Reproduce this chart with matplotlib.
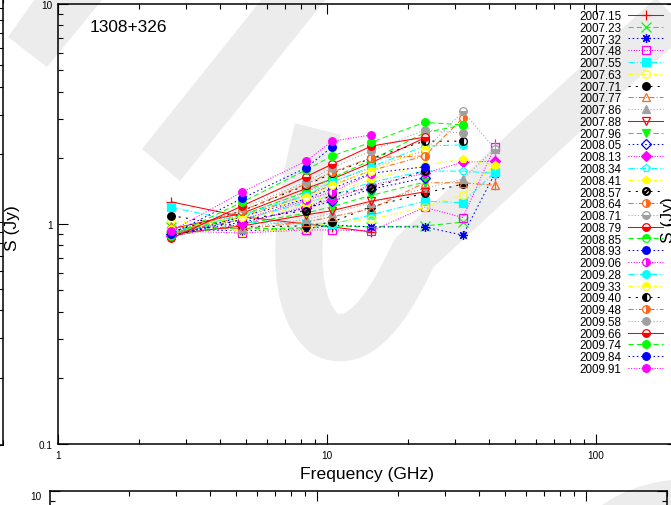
import numpy as np
import matplotlib
matplotlib.use("Agg")
import matplotlib.pyplot as plt
from matplotlib.patches import Polygon, PathPatch, Ellipse
from matplotlib.path import Path
from matplotlib.ticker import LogLocator, NullFormatter, FixedLocator, FixedFormatter

plt.rcParams['font.family'] = ['Liberation Sans', 'DejaVu Sans']

W, H = 671, 506

# observing frequencies (GHz)
freqs = [2.64, 4.85, 8.35, 10.45, 14.6, 23.05, 32.0, 42.0]

epochs = ["2007.15", "2007.23", "2007.32", "2007.48", "2007.55", "2007.63",
          "2007.71", "2007.77", "2007.86", "2007.88", "2007.96", "2008.05",
          "2008.13", "2008.34", "2008.41", "2008.57", "2008.64", "2008.71",
          "2008.79", "2008.85", "2008.93", "2009.06", "2009.28", "2009.33",
          "2009.40", "2009.48", "2009.58", "2009.66", "2009.74", "2009.84",
          "2009.91"]

N = np.nan
# flux densities (Jy) per epoch, one value per frequency
flux = [
    [1.26, 1.08, 1.00, 0.97, 0.92, N, N, N],
    [0.97, 0.95, 0.96, 0.98, 0.97, 0.98, 1.02, N],
    [0.95, 0.93, 0.95, 0.99, 0.97, 0.97, 0.89, 1.69],
    [0.93, 0.91, 0.94, 0.94, 0.93, 1.19, 1.07, 2.24],
    [1.19, 1.02, 1.00, 1.00, 1.10, 1.27, 1.25, 1.72],
    [1.04, 0.92, 0.95, 1.02, 1.05, 1.19, 1.36, 1.86],
    [1.09, 0.97, 0.98, 1.02, 1.20, 1.38, 1.52, N],
    [0.98, 0.95, 1.02, 1.08, 1.17, 1.54, 1.54, 1.50],
    [0.92, 0.96, 1.05, 1.12, 1.25, 1.45, 1.60, 2.20],
    [0.90, 0.98, 1.10, 1.15, 1.27, 1.40, N, N],
    [0.88, 1.00, 1.12, 1.20, 1.35, 1.55, N, N],
    [0.90, 1.02, 1.18, 1.27, 1.44, 1.62, N, N],
    [0.88, 1.00, 1.20, 1.30, 1.50, 1.70, 1.91, 1.93],
    [0.90, 1.05, 1.25, 1.35, 1.55, 1.74, 1.74, 1.70],
    [0.92, 1.05, 1.22, 1.38, 1.60, 1.85, 1.97, 1.85],
    [0.88, 1.05, 1.15, 1.37, 1.45, 1.75, N, N],
    [0.90, 1.08, 1.35, 1.50, 1.75, 2.04, 3.03, N],
    [0.92, 1.10, 1.40, 1.55, 1.80, 2.15, 3.26, 2.20],
    [0.95, 1.12, 1.45, 1.60, 1.90, 2.46, N, N],
    [0.90, 1.10, 1.40, 1.62, 1.95, 2.60, 2.82, N],
    [0.88, 1.08, 1.30, 1.45, 1.70, 1.82, N, N],
    [0.90, 1.05, 1.28, 1.40, 1.69, N, N, N],
    [0.92, 1.10, 1.35, 1.55, 1.82, 2.26, 2.29, N],
    [0.95, 1.08, 1.32, 1.50, 1.75, 2.20, N, N],
    [0.92, 1.15, 1.50, 1.70, 1.99, 2.38, 2.38, N],
    [0.90, 1.15, 1.52, 1.72, 2.00, 2.04, N, N],
    [0.88, 1.18, 1.55, 1.80, 2.15, 2.67, 2.59, N],
    [0.86, 1.21, 1.64, 1.87, 2.26, 2.48, N, N],
    [0.88, 1.26, 1.76, 2.04, 2.35, 2.90, 2.82, N],
    [0.90, 1.31, 1.80, 2.24, N, N, N, N],
    [0.93, 1.40, 1.93, 2.38, 2.54, N, N, N],
]
# 42 GHz uncertainties (Jy)
err42 = [N, N, 0.10, 0.20, 0.10, 0.10, N, 0.08, 0.15, N, N, N, 0.10, 0.10,
         0.10, N, N, 0.15, N, N, N, N, N, N, N, N, N, N, N, N, N]

source = "1308+326"

colors = ['#ff0000', '#00ff00', '#0000ff', '#ff00ff', '#00ffff', '#ffff00',
          '#000000', '#ff6a1a', '#a0a0a0']
dashes = [None, (5, 3), (1.5, 2.5), (1, 1.5), (6, 2, 1, 2), (4, 2, 1, 2, 1, 2),
          (2, 5), (5, 2, 1, 2), (1, 2)]

# point styles: (marker, fillstyle)
points = [('+', 'full'), ('x', 'full'), ((8, 2, 0), 'full'), ('s', 'none'),
          ('s', 'full'), ('o', 'none'), ('o', 'full'), ('^', 'none'),
          ('^', 'full'), ('v', 'none'), ('v', 'full'), ('D', 'none'),
          ('D', 'full'), ('p', 'none'), ('p', 'full'), (r'$\oslash$', 'full'),
          ('o', 'right'), ('o', 'bottom'), ('o', 'bottom'), ('o', 'top'),
          ('o', 'full'), ('o', 'right'), ('o', 'full'), ('o', 'top'),
          ('o', 'left'), ('o', 'right'), ('o', 'full'), ('o', 'bottom'),
          ('o', 'full'), ('o', 'full'), ('o', 'full')]

fig = plt.figure(figsize=(W / 100, H / 100), dpi=100)


def px_axes(x0, y0, x1, y1, **kw):
    return fig.add_axes([x0 / W, 1 - y1 / H, (x1 - x0) / W, (y1 - y0) / H], **kw)


def px(pts):
    return [(x / W, 1 - y / H) for x, y in pts]


# light background emblem, kept behind every axes
shade = '#ececec'
for poly in ([(35, 0), (103, 0), (47, 68), (8, 38)],
             [(262, 0), (326, 0), (180, 182), (142, 150)]):
    fig.patches.append(Polygon(px(poly), closed=True, transform=fig.transFigure,
                               facecolor=shade, edgecolor='none', zorder=-5))
bowl = Path(px([(318, 130), (300, 200), (283, 300), (325, 335),
                (365, 355), (397, 290), (414, 254), (700, -10)]),
            [Path.MOVETO, Path.CURVE4, Path.CURVE4, Path.CURVE4,
             Path.CURVE4, Path.CURVE4, Path.CURVE4, Path.LINETO])
fig.patches.append(PathPatch(bowl, transform=fig.transFigure, facecolor='none',
                             edgecolor=shade, lw=34, zorder=-5, capstyle='butt',
                             joinstyle='round'))
fig.patches.append(Ellipse((690 / W, 1 - 570 / H), 250 / W, 180 / H,
                           transform=fig.transFigure, facecolor=shade,
                           edgecolor='none', zorder=-5))


def style_log_axes(ax):
    ax.set_xscale('log')
    ax.set_yscale('log')
    ax.set_facecolor('none')
    for s in ax.spines.values():
        s.set_linewidth(1.1)
    ax.tick_params(which='both', direction='in', top=True, right=True,
                   width=0.8, labelsize=7.2, pad=4)
    ax.tick_params(which='major', length=7)
    ax.tick_params(which='minor', length=3.5)
    ax.xaxis.set_minor_locator(LogLocator(base=10, subs=np.arange(2, 10)))
    ax.yaxis.set_minor_locator(LogLocator(base=10, subs=np.arange(2, 10)))
    ax.xaxis.set_minor_formatter(NullFormatter())
    ax.yaxis.set_minor_formatter(NullFormatter())


# neighbouring panel on the left (only its right edge shows)
axl = px_axes(-600, -1, 3, 446)
style_log_axes(axl)
axl.set_xlim(1, 200)
axl.set_ylim(0.1, 10)
axl.tick_params(labelleft=False, labelbottom=False)

# panel below
axb = px_axes(50, 492, 667, 932)
style_log_axes(axb)
axb.set_xlim(1.02, 200)
axb.set_ylim(0.1, 10)
axb.yaxis.set_major_locator(FixedLocator([10]))
axb.yaxis.set_major_formatter(FixedFormatter(['10']))
axb.tick_params(labelbottom=False, which='both')
axb.tick_params(axis='y', labelsize=7.2, pad=6)
for t in axb.get_yticklabels():
    t.set_verticalalignment('top')

# main panel
ax = px_axes(58, 5, 677, 445)
style_log_axes(ax)
ax.set_xlim(1, 200)
ax.set_ylim(0.1, 10)
ax.xaxis.set_major_locator(FixedLocator([1, 10, 100]))
ax.xaxis.set_major_formatter(FixedFormatter(['1', '10', '100']))
ax.yaxis.set_major_locator(FixedLocator([0.1, 1, 10]))
ax.yaxis.set_major_formatter(FixedFormatter(['0.1', '1', '10']))

handles = []
for i, (lab, row) in enumerate(zip(epochs, flux)):
    c = colors[i % 9]
    d = dashes[i % 9]
    mk, fs = points[i]
    kw = dict(color=c, lw=0.75, marker=mk, ms=5.5, mec=c, mew=0.9, label=lab)
    if fs == 'none':
        kw.update(mfc='none')
    elif fs != 'full':
        kw.update(fillstyle=fs, mfc=c, markerfacecoloralt='white')
    else:
        kw.update(mfc=c)
    if mk in ('+', 'x', (8, 2, 0)):
        kw['ms'] = 6.5
    line, = ax.plot(freqs, row, **kw)
    if d is None:
        line.set_linestyle('-')
    else:
        line.set_dashes(d)
    handles.append(line)
    if not np.isnan(err42[i]):
        ax.errorbar([freqs[-1]], [row[-1]], yerr=[err42[i]], fmt='none',
                    ecolor=c, elinewidth=0.8, capsize=0)

ax.text(90 / W, 1 - 27 / H, source, transform=fig.transFigure, fontsize=12.4,
        va='center', ha='left')

leg = ax.legend(handles=handles, loc='upper right', frameon=False,
                markerfirst=False, fontsize=8.4, handlelength=3.0,
                handletextpad=0.6, labelspacing=-0.02, borderpad=0,
                borderaxespad=0,
                bbox_to_anchor=(663 / W, 1 - 11 / H),
                bbox_transform=fig.transFigure)

fig.text(300 / W, 1 - 475 / H, "Frequency (GHz)", fontsize=12.6,
         ha='left', va='center')
fig.text(13 / W, 1 - 228 / H, "S (Jy)", fontsize=12.6, rotation=90,
         ha='center', va='center')
fig.text(668 / W, 1 - 220 / H, "S (Jy)", fontsize=12.6, rotation=90,
         ha='center', va='center')

fig.savefig("out.png", dpi=100)
